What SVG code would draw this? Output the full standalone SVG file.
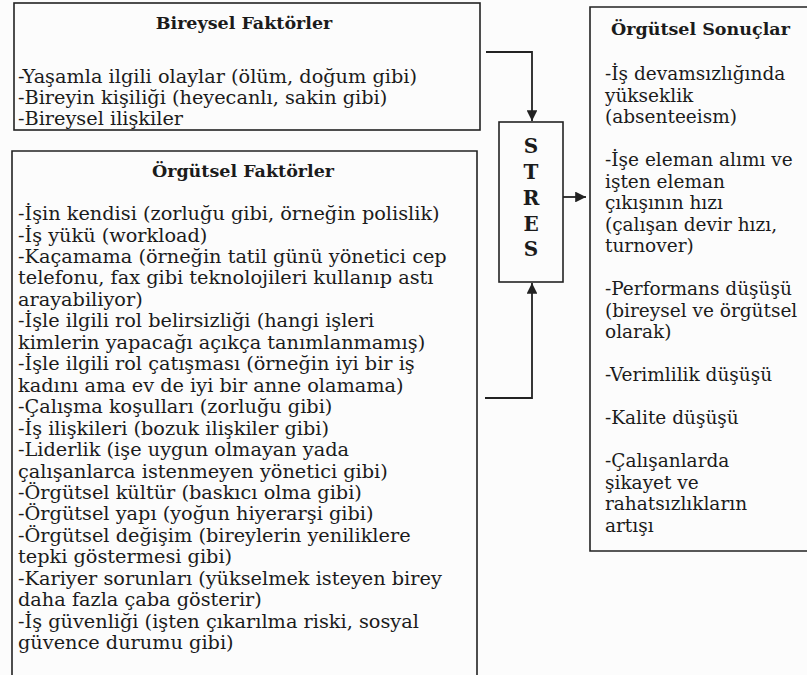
<svg xmlns="http://www.w3.org/2000/svg" width="807" height="675" viewBox="0 0 807 675">
<defs>
<style>
.box{fill:none;stroke:#222;stroke-width:1.6}
.t{font-family:"DejaVu Serif","Liberation Serif",serif;font-size:19.3px;fill:#1b1b1b}
.r{font-family:"DejaVu Serif","Liberation Serif",serif;font-size:18.5px;fill:#1b1b1b}
.h{font-family:"DejaVu Serif","Liberation Serif",serif;font-size:17.5px;font-weight:bold;fill:#1b1b1b}
.big{font-family:"DejaVu Serif","Liberation Serif",serif;font-size:20px;font-weight:bold;fill:#1b1b1b;text-anchor:middle}
.c{fill:none;stroke:#222;stroke-width:1.8}
</style>
<marker id="ah" viewBox="0 0 10 10" refX="10" refY="5" markerWidth="6" markerHeight="6" orient="auto" markerUnits="strokeWidth">
<path d="M0,0 L10,5 L0,10 z" fill="#222"/>
</marker>
</defs>
<rect width="807" height="675" fill="#fcfcfc"/>

<g id="bireysel">
<rect class="box" x="14" y="3" width="466" height="127"/>
<text class="h" x="244" y="29" text-anchor="middle">Bireysel Faktörler</text>
<text class="t" x="18" y="83">-Yaşamla ilgili olaylar (ölüm, doğum gibi)</text>
<text class="t" x="18" y="104">-Bireyin kişiliği (heyecanlı, sakin gibi)</text>
<text class="t" x="18" y="125">-Bireysel ilişkiler</text>
</g>

<g id="orgutsel-faktorler">
<path class="box" d="M12,680 V151 H477 V680"/>
<text class="h" x="243" y="177" text-anchor="middle">Örgütsel Faktörler</text>
<text class="t" x="18" y="220">-İşin kendisi (zorluğu gibi, örneğin polislik)</text>
<text class="t" x="18" y="241.5">-İş yükü (workload)</text>
<text class="t" x="18" y="263">-Kaçamama (örneğin tatil günü yönetici cep</text>
<text class="t" x="18" y="284.4">telefonu, fax gibi teknolojileri kullanıp astı</text>
<text class="t" x="18" y="305.8">arayabiliyor)</text>
<text class="t" x="18" y="327.3">-İşle ilgili rol belirsizliği (hangi işleri</text>
<text class="t" x="18" y="348.8">kimlerin yapacağı açıkça tanımlanmamış)</text>
<text class="t" x="18" y="370.2">-İşle ilgili rol çatışması (örneğin iyi bir iş</text>
<text class="t" x="18" y="391.7">kadını ama ev de iyi bir anne olamama)</text>
<text class="t" x="18" y="413.1">-Çalışma koşulları (zorluğu gibi)</text>
<text class="t" x="18" y="434.6">-İş ilişkileri (bozuk ilişkiler gibi)</text>
<text class="t" x="18" y="456">-Liderlik (işe uygun olmayan yada</text>
<text class="t" x="18" y="477.5">çalışanlarca istenmeyen yönetici gibi)</text>
<text class="t" x="18" y="499">-Örgütsel kültür (baskıcı olma gibi)</text>
<text class="t" x="18" y="520.4">-Örgütsel yapı (yoğun hiyerarşi gibi)</text>
<text class="t" x="18" y="541.9">-Örgütsel değişim (bireylerin yeniliklere</text>
<text class="t" x="18" y="563.3">tepki göstermesi gibi)</text>
<text class="t" x="18" y="584.8">-Kariyer sorunları (yükselmek isteyen birey</text>
<text class="t" x="18" y="606.2">daha fazla çaba gösterir)</text>
<text class="t" x="18" y="627.7">-İş güvenliği (işten çıkarılma riski, sosyal</text>
<text class="t" x="18" y="649.1">güvence durumu gibi)</text>
</g>

<g id="stres">
<rect class="box" x="499" y="122" width="64" height="160"/>
<text class="big" x="531" y="153">S</text>
<text class="big" x="531" y="179">T</text>
<text class="big" x="531" y="205">R</text>
<text class="big" x="531" y="231">E</text>
<text class="big" x="531" y="256">S</text>
</g>

<g id="orgutsel-sonuclar">
<path class="box" d="M812,7 H590 V551 H812"/>
<text class="h" x="611" y="35">Örgütsel Sonuçlar</text>
<text class="r" x="605" y="80">-İş devamsızlığında</text>
<text class="r" x="605" y="101.5">yükseklik</text>
<text class="r" x="605" y="123">(absenteeism)</text>
<text class="r" x="605" y="166">-İşe eleman alımı ve</text>
<text class="r" x="605" y="187.5">işten eleman</text>
<text class="r" x="605" y="209">çıkışının hızı</text>
<text class="r" x="605" y="230.5">(çalışan devir hızı,</text>
<text class="r" x="605" y="252">turnover)</text>
<text class="r" x="605" y="295">-Performans düşüşü</text>
<text class="r" x="605" y="316.5">(bireysel ve örgütsel</text>
<text class="r" x="605" y="338">olarak)</text>
<text class="r" x="605" y="381">-Verimlilik düşüşü</text>
<text class="r" x="605" y="424">-Kalite düşüşü</text>
<text class="r" x="605" y="467">-Çalışanlarda</text>
<text class="r" x="605" y="488.5">şikayet ve</text>
<text class="r" x="605" y="510">rahatsızlıkların</text>
<text class="r" x="605" y="531.5">artışı</text>
</g>

<g id="connectors">
<path class="c" d="M486,52 H532 V121" marker-end="url(#ah)"/>
<path class="c" d="M485,398 H532 V283" marker-end="url(#ah)"/>
<path class="c" d="M563,197 H586" marker-end="url(#ah)"/>
</g>
</svg>
